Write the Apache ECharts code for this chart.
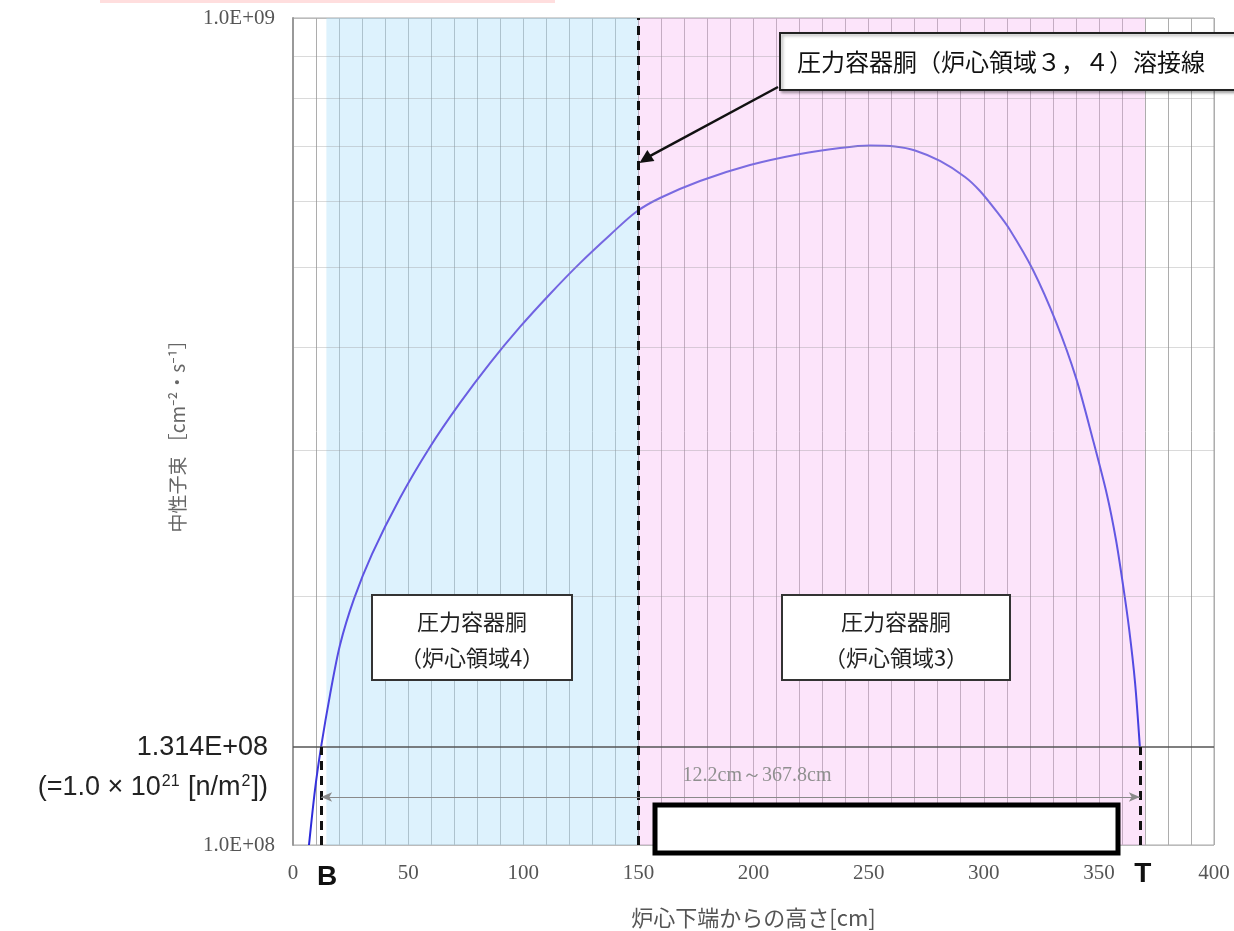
<!DOCTYPE html>
<html>
<head>
<meta charset="utf-8">
<script src="https://cdn.jsdelivr.net/npm/echarts@6/dist/echarts.min.js"></script>
<style>html,body{margin:0;padding:0;background:#fff;}#c{width:1234px;height:931px;}</style>
</head>
<body>
<div id="c"></div>
<script>
// ---- data ----
const heights = [6.95, 9.55, 12.2, 16.07, 20.41, 26.49, 34.31, 46.47, 59.5, 72.53, 85.56, 98.59, 111.62, 124.65, 137.68, 148.97, 159.39, 176.76, 198.48, 220.2, 237.57, 250.6, 261.46, 270.14, 281.0, 291.86, 298.37, 305.76, 311.4, 321.39, 331.38, 340.07, 347.45, 353.53, 357.44, 360.48, 363.08, 365.69, 367.8];
const flux = [1.0e8, 1.166e8, 1.314e8, 1.519e8, 1.745e8, 1.984e8, 2.248e8, 2.628e8, 3.029e8, 3.424e8, 3.826e8, 4.231e8, 4.638e8, 5.054e8, 5.466e8, 5.827e8, 6.058e8, 6.352e8, 6.641e8, 6.849e8, 6.963e8, 7.011e8, 6.992e8, 6.915e8, 6.716e8, 6.424e8, 6.178e8, 5.827e8, 5.542e8, 4.958e8, 4.290e8, 3.671e8, 3.088e8, 2.650e8, 2.338e8, 2.063e8, 1.830e8, 1.574e8, 1.314e8];
const xTickLabels = [0, 50, 100, 150, 200, 250, 300, 350, 400];
const yMinorGrid = [2e8, 3e8, 4e8, 5e8, 6e8, 7e8, 8e8, 9e8];
const limitFlux = 1.314e8;
const weldHeight = 150;
const rangeBottom = 12.2;
const rangeTop = 367.8;
const region4 = [14.5, 150];
const region3 = [150, 370];
const rangeArrowFlux = 1.143e8;
const weldArrowFlux = 6.68e8;

const serif = "'Liberation Serif','DejaVu Serif',serif";
const cjk = "'Noto Sans CJK JP','Noto Sans',sans-serif";
const sans = "'Liberation Sans', Arial, sans-serif";

const chart = echarts.init(document.getElementById('c'), null, {renderer: 'canvas'});

const option = {
  animation: false,
  backgroundColor: '#fff',
  grid: {left: 293, top: 18, width: 921, height: 827, show: true, borderColor: '#a8a8a8', borderWidth: 1,
         backgroundColor: 'transparent', containLabel: false, outerBoundsMode: 'none'},
  xAxis: {
    type: 'value', min: 0, max: 400, interval: 10,
    axisLine: {show: false}, axisTick: {show: false},
    axisLabel: {
      margin: 18, color: '#555', fontFamily: serif, fontSize: 21,
      formatter: v => (xTickLabels.indexOf(v) >= 0 ? String(v) : '')
    },
    splitLine: {show: true, lineStyle: {color: '#adadad', width: 1}},
    name: '炉心下端からの高さ[cm]', nameLocation: 'middle', nameGap: 62,
    nameTextStyle: {color: '#555', fontFamily: cjk, fontSize: 22}
  },
  yAxis: {
    type: 'log', logBase: 10, min: 1e8, max: 1e9,
    axisLine: {show: true, lineStyle: {color: '#999', width: 2}}, axisTick: {show: false},
    axisLabel: {
      margin: 18, color: '#555', fontFamily: serif, fontSize: 21,
      formatter: v => (Math.abs(v - 1e9) < 1 ? '1.0E+09' : (Math.abs(v - 1e8) < 1 ? '1.0E+08' : ''))
    },
    splitLine: {show: true, lineStyle: {color: '#bbb'}},
    name: '中性子束 ［cm⁻²・s⁻¹］', nameLocation: 'middle', nameGap: 106, nameRotate: 90,
    nameTextStyle: {color: '#666', fontFamily: cjk, fontSize: 19}
  },
  series: [
    {
      type: 'line', name: 'flux', z: 3,
      data: heights.map((h, i) => [h, flux[i]]),
      smooth: 0.3, showSymbol: false, symbol: 'none',
      lineStyle: {
        width: 2,
        color: new echarts.graphic.LinearGradient(0, 0, 0, 1, [
          {offset: 0, color: '#7d6de0'}, {offset: 0.7, color: '#5a50e4'}, {offset: 1, color: '#2626d8'}
        ])
      },
      markArea: {
        silent: true,
        data: [
          [{xAxis: region4[0], itemStyle: {color: 'rgba(175,225,250,0.42)'}}, {xAxis: region4[1]}],
          [{xAxis: region3[0], itemStyle: {color: 'rgba(245,170,240,0.32)'}}, {xAxis: region3[1]}]
        ]
      },
      markLine: {
        silent: true, symbol: 'none', label: {show: false},
        data: yMinorGrid.map(v => ({yAxis: v, lineStyle: {color: 'rgba(150,150,150,0.35)', width: 1, type: 'solid'}}))
          .concat([{yAxis: limitFlux, lineStyle: {color: '#555', width: 1.5, type: 'solid'}}])
      }
    },
    {
      type: 'line', name: 'dashes', z: 5, data: [],
      markLine: {
        silent: true, symbol: 'none', label: {show: false},
        lineStyle: {color: '#111', width: 3, type: [9, 6]},
        data: [
          {xAxis: weldHeight},
          [{coord: [rangeBottom, 1e8]}, {coord: [rangeBottom, limitFlux]}],
          [{coord: [rangeTop, 1e8]}, {coord: [rangeTop, limitFlux]}]
        ]
      }
    },
    {
      type: 'line', name: 'range', z: 4, data: [],
      markLine: {
        silent: true, symbol: ['arrow', 'arrow'], symbolSize: [7, 11], label: {show: false},
        lineStyle: {color: '#8a8a8a', width: 1, type: 'solid'},
        data: [[{coord: [rangeBottom, rangeArrowFlux]}, {coord: [rangeTop, rangeArrowFlux]}]]
      }
    }
  ]
};
chart.setOption(option);

function px(x, y) { return chart.convertToPixel({gridIndex: 0}, [x, y]); }
const pB = px(rangeBottom, 1e8), pT = px(rangeTop, 1e8);
const pLim = px(0, limitFlux);
const pArr = px(rangeBottom, rangeArrowFlux);
const pWeld = px(weldHeight, weldArrowFlux);
const gx0 = px(0, 1e8)[0];

chart.setOption({
  graphic: [
    {type: 'rect', shape: {x: 100, y: 0, width: 455, height: 3}, style: {fill: 'rgba(255,160,160,0.35)'}, z: 1},
    // limit label
    {type: 'text', z: 10, style: {text: '1.314E+08', x: gx0 - 25, y: pLim[1] + 1, align: 'right', verticalAlign: 'middle', fill: '#222', font: "27px " + sans}},
    {type: 'text', z: 10, style: {
      text: '(=1.0 × 10{sup|21} [n/m{sup|2}])', x: gx0 - 25, y: pLim[1] + 41, align: 'right', verticalAlign: 'middle',
      fill: '#222', font: "27px " + sans,
      rich: {sup: {fontSize: 16, fontFamily: sans, fill: '#222', verticalAlign: 'top', padding: [0, 1, 12, 1]}}
    }},
    // B / T
    {type: 'text', z: 10, style: {text: 'B', x: pB[0] + 6, y: 877, align: 'center', verticalAlign: 'middle', fill: '#111', font: "bold 28px " + sans}},
    {type: 'text', z: 10, style: {text: 'T', x: pT[0] + 3, y: 874, align: 'center', verticalAlign: 'middle', fill: '#111', font: "bold 28px " + sans}},
    // range label
    {type: 'text', z: 10, style: {text: '12.2cm～367.8cm', x: 757, y: pArr[1] - 21, align: 'center', verticalAlign: 'middle', fill: '#909090', font: "20px " + serif}},
    // redaction box
    {type: 'rect', z: 10, shape: {x: 655, y: 805, width: 463, height: 48}, style: {fill: '#fff', stroke: '#000', lineWidth: 5}},
    // region boxes
    {type: 'rect', z: 10, shape: {x: 372, y: 595, width: 200, height: 85}, style: {fill: '#fff', stroke: '#333', lineWidth: 2}},
    {type: 'text', z: 11, style: {text: '圧力容器胴', x: 472, y: 622, align: 'center', verticalAlign: 'middle', fill: '#222', font: "22px " + cjk}},
    {type: 'text', z: 11, style: {text: '（炉心領域4）', x: 472, y: 658, align: 'center', verticalAlign: 'middle', fill: '#222', font: "22px " + cjk}},
    {type: 'rect', z: 10, shape: {x: 782, y: 595, width: 228, height: 85}, style: {fill: '#fff', stroke: '#333', lineWidth: 2}},
    {type: 'text', z: 11, style: {text: '圧力容器胴', x: 896, y: 622, align: 'center', verticalAlign: 'middle', fill: '#222', font: "22px " + cjk}},
    {type: 'text', z: 11, style: {text: '（炉心領域3）', x: 896, y: 658, align: 'center', verticalAlign: 'middle', fill: '#222', font: "22px " + cjk}},
    // callout
    {type: 'rect', z: 10, shape: {x: 780, y: 33, width: 480, height: 57}, style: {fill: '#fff', stroke: '#222', lineWidth: 2, shadowBlur: 3, shadowOffsetX: 2, shadowOffsetY: 2, shadowColor: 'rgba(0,0,0,0.3)'}},
    {type: 'text', z: 11, style: {text: '圧力容器胴（炉心領域３，４）溶接線', x: 797, y: 62, align: 'left', verticalAlign: 'middle', fill: '#111', font: "24px " + cjk}},
    {type: 'line', z: 10, shape: {x1: 778, y1: 87, x2: pWeld[0] + 10, y2: pWeld[1] - 6}, style: {stroke: '#111', lineWidth: 2.5}},
    {type: 'polygon', z: 10, shape: {points: [[pWeld[0] + 1, pWeld[1]], [pWeld[0] + 9, pWeld[1] - 13], [pWeld[0] + 16, pWeld[1] - 2]]}, style: {fill: '#111'}}
  ]
});
</script>
</body>
</html>
